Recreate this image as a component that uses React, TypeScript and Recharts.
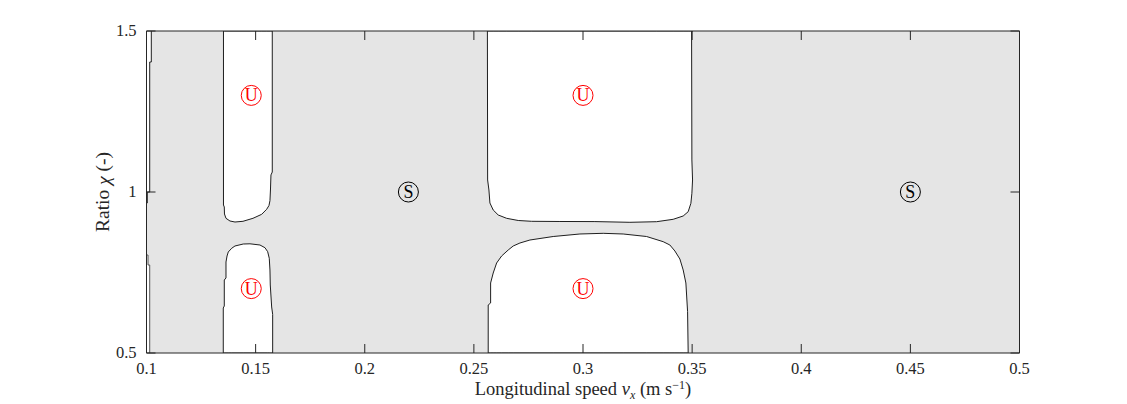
import React from 'react';
import { ComposedChart, Area, Line, Scatter, XAxis, YAxis } from 'recharts';

// ---- axes ----
const xTicks = [0.1, 0.15, 0.2, 0.25, 0.3, 0.35, 0.4, 0.45, 0.5];
const yTicks = [0.5, 1, 1.5];
const xDomain = [0.1, 0.5];
const yDomain = [0.5, 1.5];

// ---- boundaries of the unstable (white) regions: x = speed, y = ratio ----
const upperLeft = [
  { x: 0.13527, y: 1.5 }, { x: 0.13527, y: 0.9596 }, { x: 0.13564, y: 0.9534 },
  { x: 0.13573, y: 0.9317 }, { x: 0.13642, y: 0.9183 }, { x: 0.13825, y: 0.9099 },
  { x: 0.14054, y: 0.9068 }, { x: 0.1442, y: 0.909 }, { x: 0.14879, y: 0.9183 },
  { x: 0.15277, y: 0.9307 }, { x: 0.15506, y: 0.9463 }, { x: 0.15612, y: 0.958 },
  { x: 0.15657, y: 0.9731 }, { x: 0.1568, y: 1.0062 }, { x: 0.15703, y: 1.053 },
  { x: 0.15763, y: 1.062 }, { x: 0.15763, y: 1.5 },
];
const lowerLeft = [
  { x: 0.13518, y: 0.5 }, { x: 0.13518, y: 0.6398 }, { x: 0.13564, y: 0.646 },
  { x: 0.13564, y: 0.7267 }, { x: 0.13642, y: 0.733 }, { x: 0.13642, y: 0.7826 },
  { x: 0.1369, y: 0.8012 }, { x: 0.13747, y: 0.8137 }, { x: 0.13903, y: 0.8252 },
  { x: 0.14054, y: 0.8323 }, { x: 0.14434, y: 0.8385 }, { x: 0.14741, y: 0.8391 },
  { x: 0.15199, y: 0.8354 }, { x: 0.15428, y: 0.827 }, { x: 0.15552, y: 0.8146 },
  { x: 0.15625, y: 0.7941 }, { x: 0.15657, y: 0.7578 }, { x: 0.15671, y: 0.7112 },
  { x: 0.15735, y: 0.6429 }, { x: 0.15781, y: 0.62 }, { x: 0.15781, y: 0.5 },
];
const upperMiddle = [
  { x: 0.2562, y: 1.5 }, { x: 0.2563, y: 1.0373 }, { x: 0.2569, y: 1.0062 },
  { x: 0.25735, y: 0.9658 }, { x: 0.25886, y: 0.9441 }, { x: 0.26115, y: 0.9286 },
  { x: 0.265, y: 0.9183 }, { x: 0.27032, y: 0.9115 }, { x: 0.27645, y: 0.909 },
  { x: 0.28942, y: 0.9084 }, { x: 0.30545, y: 0.9081 }, { x: 0.32149, y: 0.9059 },
  { x: 0.33372, y: 0.9078 }, { x: 0.34132, y: 0.9152 }, { x: 0.3459, y: 0.9255 },
  { x: 0.34819, y: 0.9388 }, { x: 0.34943, y: 0.9649 }, { x: 0.34989, y: 0.996 },
  { x: 0.3502, y: 1.0373 }, { x: 0.34989, y: 1.0994 }, { x: 0.34975, y: 1.5 },
];
const lowerMiddle = [
  { x: 0.25657, y: 0.5 }, { x: 0.25657, y: 0.6491 }, { x: 0.25767, y: 0.6553 },
  { x: 0.25767, y: 0.7174 }, { x: 0.25886, y: 0.7484 }, { x: 0.26042, y: 0.7795 },
  { x: 0.26271, y: 0.8012 }, { x: 0.26574, y: 0.8199 }, { x: 0.26803, y: 0.8323 },
  { x: 0.2711, y: 0.8416 }, { x: 0.27568, y: 0.8509 }, { x: 0.28635, y: 0.8618 },
  { x: 0.29858, y: 0.8696 }, { x: 0.30925, y: 0.8717 }, { x: 0.31841, y: 0.8696 },
  { x: 0.32913, y: 0.8618 }, { x: 0.33674, y: 0.8457 }, { x: 0.33981, y: 0.8354 },
  { x: 0.3421, y: 0.8168 }, { x: 0.34439, y: 0.7919 }, { x: 0.3459, y: 0.7578 },
  { x: 0.34714, y: 0.7174 }, { x: 0.34792, y: 0.6283 }, { x: 0.34819, y: 0.5 },
];
// thin unstable strip along the left edge
const stripTop = [
  { x: 0.1022, y: 1.5 }, { x: 0.1022, y: 1.4037 }, { x: 0.10147, y: 1.4037 },
  { x: 0.10147, y: 1.0 }, { x: 0.10037, y: 1.0 }, { x: 0.10037, y: 0.9658 }, { x: 0.1, y: 0.9658 },
];
const stripBottom = [
  { x: 0.1, y: 0.8043 }, { x: 0.10069, y: 0.8043 }, { x: 0.10069, y: 0.7733 },
  { x: 0.10147, y: 0.7733 }, { x: 0.10147, y: 0.5 },
];
const stripBands = [
  { x1: 0.1022, lo: 1.4037, hi: 1.5 },
  { x1: 0.10147, lo: 1.0, hi: 1.4037 },
  { x1: 0.10037, lo: 0.9658, hi: 1.0 },
  { x1: 0.10069, lo: 0.7733, hi: 0.8043 },
  { x1: 0.10147, lo: 0.5, hi: 0.7733 },
];

// ---- markers ----
const stablePoints = [{ x: 0.22, y: 1 }, { x: 0.45, y: 1 }];
const unstablePoints = [
  { x: 0.148, y: 1.3 }, { x: 0.148, y: 0.7 }, { x: 0.3, y: 1.3 }, { x: 0.3, y: 0.7 },
];

const FONT = '"Liberation Serif", "Times New Roman", serif';
const AX = '#262626';
const GRAY = '#e5e5e5';
const EDGE = '#1e1e1e';

const W = 1111;
const H = 396;
// plot area: left 138.5, top 23, right 1011.5, bottom 345 (svg coords); axes are 1px thick
const M = { top: 22, right: 98.5, bottom: 50, left: 137.5 };
const PLOT = { left: 138.5, top: 23, width: 873, height: 322 };

const upperArea = (pts: { x: number; y: number }[]) => pts.map((p) => ({ x: p.x, r: [p.y, yDomain[1]] }));
const lowerArea = (pts: { x: number; y: number }[]) => pts.map((p) => ({ x: p.x, r: [yDomain[0], p.y] }));
const bandArea = (b: { x1: number; lo: number; hi: number }) => [
  { x: xDomain[0], r: [b.lo, b.hi] },
  { x: b.x1, r: [b.lo, b.hi] },
];
const background = [
  { x: xDomain[0], r: [yDomain[0], yDomain[1]] },
  { x: xDomain[1], r: [yDomain[0], yDomain[1]] },
];

const BottomTick = (p: any) => (
  <g>
    <line x1={p.x} y1={p.y} x2={p.x} y2={p.y - 9} stroke={AX} strokeWidth={1} />
    <text x={p.x} y={p.y + 21} textAnchor="middle" fontFamily={FONT} fontSize={16.5} fill={AX}>
      {String(p.payload.value)}
    </text>
  </g>
);
const TopTick = (p: any) => (
  <line x1={p.x} y1={p.y} x2={p.x} y2={p.y + 9} stroke={AX} strokeWidth={1} />
);
const LeftTick = (p: any) => (
  <g>
    <line x1={p.x} y1={p.y} x2={p.x + 9} y2={p.y} stroke={AX} strokeWidth={1} />
    <text x={p.x - 10} y={p.y + 5} textAnchor="end" fontFamily={FONT} fontSize={16.5} fill={AX}>
      {String(p.payload.value)}
    </text>
  </g>
);
const RightTick = (p: any) => (
  <line x1={p.x} y1={p.y} x2={p.x - 9} y2={p.y} stroke={AX} strokeWidth={1} />
);

const makeMarker = (color: string, letter: string) => (p: any) => (
  <g>
    <circle cx={p.cx} cy={p.cy} r={10} fill="none" stroke={color} strokeWidth={1} />
    <text x={p.cx} y={p.cy + 6} textAnchor="middle" fontFamily={FONT} fontSize={18} fill={color}>
      {letter}
    </text>
  </g>
);
const StableMarker = makeMarker('#000000', 'S');
const UnstableMarker = makeMarker('#ff0000', 'U');

const areaCommon = {
  dataKey: 'r',
  type: 'linear' as const,
  fillOpacity: 1,
  isAnimationActive: false,
  dot: false,
  activeDot: false,
};

export default function App() {
  return (
    <div style={{ position: 'relative', width: W, height: H }}>
      <ComposedChart width={W} height={H} margin={M}>
        <Area {...areaCommon} data={background} fill={GRAY} stroke="none" />
        {stripBands.map((b, i) => (
          <Area key={'band' + i} {...areaCommon} data={bandArea(b)} fill="#ffffff" stroke="none" />
        ))}
        <Area {...areaCommon} data={upperArea(upperLeft)} fill="#ffffff" stroke={EDGE} strokeWidth={1} />
        <Area {...areaCommon} data={lowerArea(lowerLeft)} fill="#ffffff" stroke={EDGE} strokeWidth={1} />
        <Area {...areaCommon} data={upperArea(upperMiddle)} fill="#ffffff" stroke={EDGE} strokeWidth={1} />
        <Area {...areaCommon} data={lowerArea(lowerMiddle)} fill="#ffffff" stroke={EDGE} strokeWidth={1} />

        <Line data={stripTop} dataKey="y" type="linear" stroke={EDGE} strokeWidth={1} dot={false} activeDot={false} isAnimationActive={false} />
        <Line data={stripBottom} dataKey="y" type="linear" stroke="#555555" strokeWidth={1} dot={false} activeDot={false} isAnimationActive={false} />

        <Scatter data={stablePoints} shape={StableMarker} isAnimationActive={false} />
        <Scatter data={unstablePoints} shape={UnstableMarker} isAnimationActive={false} />

        <XAxis
          xAxisId={0}
          dataKey="x"
          type="number"
          domain={xDomain}
          ticks={xTicks}
          allowDataOverflow
          height={1}
          tickSize={0}
          tickMargin={0}
          tickLine={false}
          axisLine={{ stroke: AX, strokeWidth: 1 }}
          tick={<BottomTick />}
          interval={0}
        />
        <XAxis
          xAxisId="top"
          orientation="top"
          dataKey="x"
          type="number"
          domain={xDomain}
          ticks={xTicks}
          allowDataOverflow
          height={1}
          tickSize={0}
          tickMargin={0}
          tickLine={false}
          axisLine={{ stroke: AX, strokeWidth: 1 }}
          tick={<TopTick />}
          interval={0}
        />
        <YAxis
          yAxisId={0}
          dataKey="y"
          type="number"
          domain={yDomain}
          ticks={yTicks}
          allowDataOverflow
          width={1}
          tickSize={0}
          tickMargin={0}
          tickLine={false}
          axisLine={{ stroke: AX, strokeWidth: 1 }}
          tick={<LeftTick />}
          interval={0}
        />
        <YAxis
          yAxisId="right"
          orientation="right"
          dataKey="y"
          type="number"
          domain={yDomain}
          ticks={yTicks}
          allowDataOverflow
          width={1}
          tickSize={0}
          tickMargin={0}
          tickLine={false}
          axisLine={{ stroke: AX, strokeWidth: 1 }}
          tick={<RightTick />}
          interval={0}
        />
      </ComposedChart>
      <svg width={W} height={H} style={{ position: 'absolute', left: 0, top: 0, pointerEvents: 'none' }}>
        <text
          x={PLOT.left + PLOT.width / 2}
          y={PLOT.top + PLOT.height + 42}
          textAnchor="middle"
          fontFamily={FONT}
          fontSize={18.5}
          fill={AX}
        >
          Longitudinal speed <tspan fontStyle="italic">v</tspan>
          <tspan fontStyle="italic" fontSize={12} dy={4}>x</tspan>
          <tspan dy={-4}> (m s</tspan>
          <tspan fontSize={12} dy={-6}>−1</tspan>
          <tspan dy={6}>)</tspan>
        </text>
        <text
          transform={`translate(${PLOT.left - 44}, ${PLOT.top + PLOT.height / 2}) rotate(-90)`}
          textAnchor="middle"
          dominantBaseline="central"
          fontFamily={FONT}
          fontSize={19.5}
          fill={AX}
        >
          Ratio <tspan fontStyle="italic">χ</tspan> (-)
        </text>
      </svg>
    </div>
  );
}
